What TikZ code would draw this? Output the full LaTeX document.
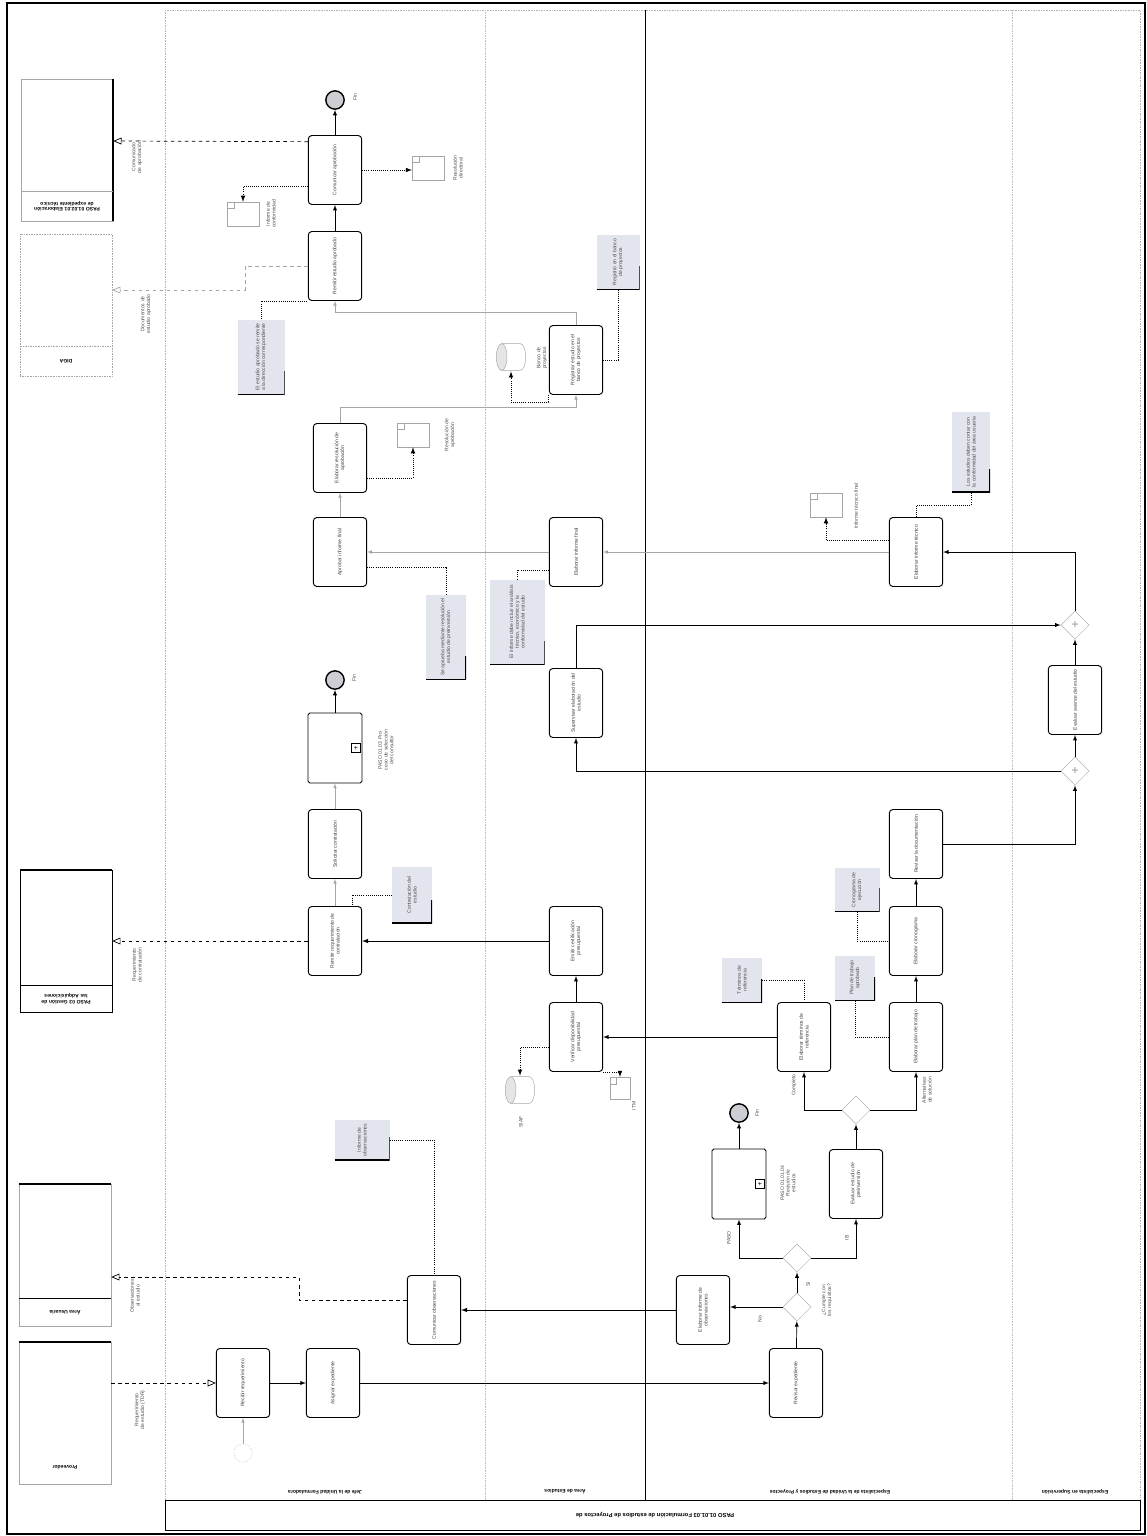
\documentclass[tikz,border=0pt]{standalone}
\usepackage{fontspec}
\setmainfont{Liberation Sans}
\usepackage{xcolor}
\usepackage{graphicx}
\usepackage{tikz}
\usetikzlibrary{shapes,shapes.geometric,arrows,positioning}
\definecolor{annotfill}{RGB}{226,229,237}
\definecolor{evgray}{RGB}{205,206,212}
\newcommand{\vtext}[2]{\rotatebox{90}{\parbox{#1}{\centering #2}}}

\begin{document}
\begin{tikzpicture}[
    x=0.03cm, y=-0.03cm,
    every node/.style={font=\fontsize{4.3}{4.9}\selectfont, inner sep=1pt},
    task/.style={draw, thick, rectangle, rounded corners=3pt, minimum width=1.6cm, minimum height=2.07cm, fill=white, text=black!75},
    subproc/.style={task, minimum width=1.62cm, minimum height=2.1cm, rounded corners=1.5pt},
    spmark/.style={draw, inner sep=0pt, minimum size=0.27cm, font=\fontsize{6}{6}\selectfont},
    gate/.style={draw=gray!60, diamond, minimum width=0.85cm, minimum height=0.85cm, inner sep=0pt, fill=white},
    pgate/.style={gate, font=\fontsize{10}{10}\selectfont\bfseries, text=gray!60},
    startev/.style={circle, draw=gray!70, densely dotted, minimum size=0.55cm, inner sep=0pt},
    endev/.style={circle, draw, very thick, fill=evgray, minimum size=0.55cm, inner sep=0pt},
    annot/.style={fill=annotfill, text=black!70, inner sep=1pt, path picture={\draw[line width=1.2pt] (path picture bounding box.south west) -- (path picture bounding box.south east) -- ([yshift=0.7cm]path picture bounding box.south east);}},
    dobj/.style={draw=gray!70, minimum width=0.95cm, minimum height=0.72cm, inner sep=0pt, fill=white, path picture={\draw[gray!70] ([xshift=0.2cm]path picture bounding box.north west) -- ++(0,-0.2cm) -- ++(-0.2cm,0);}},
    dstore/.style={rectangle, minimum width=0.95cm, minimum height=0.85cm, inner sep=0pt, path picture={
        \begin{scope}[shift={(path picture bounding box.center)}]
        \draw[gray!70, fill=gray!20] (-0.28cm,0) ellipse [x radius=0.16cm, y radius=0.4cm];
        \draw[gray!70] (-0.28cm,0.4cm) -- (0.28cm,0.4cm) arc[start angle=90, end angle=-90, x radius=0.16cm, y radius=0.4cm] -- (-0.28cm,-0.4cm);
        \end{scope}}},
    extpool/.style={draw=gray!70, minimum width=2.76cm, minimum height=4.26cm, inner sep=0pt},
    flow/.style={draw, semithick, -latex},
    softflow/.style={draw=gray!70, thin, -latex},
    msg/.style={draw, dashed, semithick, -open triangle 45},
    assoc/.style={draw, densely dotted, thick},
    lbl/.style={rotate=90, align=center, text=black!70},
    lanelbl/.style={rotate=180, font=\fontsize{4.3}{4.9}\selectfont\bfseries}
]
\useasboundingbox (0,0) rectangle (1147,1536);
\draw[line width=1.6pt] (7,3) rectangle (1145,1534);

\draw[gray!60, densely dotted] (165,10) rectangle (1140,1530);
\draw (165,1500) rectangle (1140,1530);
\draw[gray!50, densely dotted] (485,10) -- (485,1500);
\draw[semithick] (645,10) -- (645,1500);
\draw[gray!50, densely dotted] (1012,10) -- (1012,1500);
\node[lanelbl, font=\fontsize{5}{6}\selectfont\bfseries] (hdr) at (655,1515) {PASO 01.01.03 Formulación de estudios de Proyectos de};
\node[lanelbl] (ln1) at (325,1492) {Jefe de la Unidad Formuladora};
\node[lanelbl] (ln2) at (565,1492) {Área de Estudios};
\node[lanelbl] (ln3) at (830,1492) {Especialista de la Unidad de Estudios y Proyectos};
\node[lanelbl] (ln4) at (1075,1492) {Especialista en Supervisión};

\node[extpool] (p1) at (67,150) {};
\draw[line width=1.3pt] (p1.north east) -- (p1.south east);
\draw[gray!70] ([yshift=0.9cm]p1.south west) -- ([yshift=0.9cm]p1.south east);
\node[lanelbl, text width=2.5cm, align=center] (p1l) at ([yshift=0.45cm]p1.south) {PASO 01.02.01 Elaboración de expediente técnico};
\node[extpool, densely dotted] (p2) at (66,305) {};
\draw[gray!70, densely dotted] ([yshift=0.9cm]p2.south west) -- ([yshift=0.9cm]p2.south east);
\node[lanelbl] (p2l) at ([yshift=0.45cm]p2.south) {DIGA};
\node[extpool, draw=black] (p3) at (66,941) {};
\draw[line width=1.3pt] (p3.north west) -- (p3.north east);
\draw ([yshift=0.8cm]p3.south west) -- ([yshift=0.8cm]p3.south east);
\node[lanelbl, text width=2.5cm, align=center] (p3l) at ([yshift=0.4cm]p3.south) {PASO 03 Gestión de las Adquisiciones};
\node[extpool] (p4) at (65,1255) {};
\draw[line width=1.3pt] (p4.north west) -- (p4.north east);
\draw ([yshift=0.85cm]p4.south west) -- ([yshift=0.85cm]p4.south east);
\node[lanelbl] (p4l) at ([yshift=0.42cm]p4.south) {Área Usuaria};
\node[extpool] (p5) at (65,1413) {};
\draw[line width=1.3pt] (p5.north west) -- (p5.north east);
\node[lanelbl] (p5l) at ([yshift=0.5cm]p5.south) {Proveedor};

\node[startev] (s0) at (243,1453) {};
\node[task] (t1) at (243,1383) {\vtext{1.8cm}{Recibir requerimiento}};
\node[task] (t2) at (333,1383) {\vtext{1.8cm}{Asignar expediente}};
\node[task] (t3) at (796,1383) {\vtext{1.8cm}{Revisar expediente}};
\node[task] (t4) at (434,1310) {\vtext{1.8cm}{Comunicar observaciones}};
\node[task] (t5) at (703,1310) {\vtext{1.8cm}{Elaborar informe de observaciones}};
\node[gate] (g1) at (797,1307) {};
\node[gate] (g2) at (797,1258) {};
\node[subproc] (t6) at (739,1184) {};
\node[spmark, anchor=east] (t6m) at ([xshift=-1.5pt]t6.east) {+};
\node[lbl, text width=1.3cm] (t6l) at (788,1183) {PASO 01.01.04 Revisión de estudios};
\node[endev] (e1) at (739,1113) {};
\node[lbl] (e1l) at (757,1113) {Fin};
\node[task] (t7) at (856,1184) {\vtext{1.8cm}{Evaluar estudio de preinversión}};
\node[gate] (g3) at (856,1110) {};
\node[task] (t8) at (804,1037) {\vtext{1.8cm}{Elaborar términos de referencia}};
\node[task] (t9) at (916,1037) {\vtext{1.8cm}{Elaborar plan de trabajo}};
\node[task] (t10) at (576,1037) {\vtext{1.8cm}{Verificar disponibilidad presupuestal}};
\node[task] (t11) at (916,941) {\vtext{1.8cm}{Elaborar cronograma}};
\node[task] (t12) at (916,844) {\vtext{1.8cm}{Revisar la documentación}};
\node[pgate] (gp1) at (1075,771) {+};
\node[task] (t13) at (576,703) {\vtext{1.8cm}{Supervisar elaboración del estudio}};
\node[task] (t14) at (1075,700) {\vtext{1.8cm}{Evaluar avance del estudio}};
\node[pgate] (gp2) at (1075,625) {+};
\node[task] (t15) at (916,552) {\vtext{1.8cm}{Elaborar informe técnico}};
\node[task] (t16) at (576,552) {\vtext{1.8cm}{Elaborar informe final}};
\node[task] (t17) at (340,552) {\vtext{1.8cm}{Aprobar informe final}};
\node[task] (t18) at (340,458) {\vtext{1.8cm}{Elaborar resolución de aprobación}};
\node[task] (t19) at (576,360) {\vtext{1.8cm}{Registrar estudio en el banco de proyectos}};
\node[task] (t20) at (335,266) {\vtext{1.8cm}{Remitir estudio aprobado}};
\node[task] (t21) at (335,170) {\vtext{1.8cm}{Comunicar aprobación}};
\node[endev] (e3) at (335,100) {};
\node[lbl] (e3l) at (355,97) {Fin};
\node[task] (t22) at (335,941) {\vtext{1.8cm}{Remitir requerimiento de contratación}};
\node[task] (t23) at (576,941) {\vtext{1.8cm}{Emitir certificación presupuestal}};
\node[task] (t24) at (335,844) {\vtext{1.8cm}{Solicitar contratación}};
\node[subproc] (t25) at (335,748) {};
\node[spmark, anchor=east] (t25m) at ([xshift=-1.5pt]t25.east) {+};
\node[lbl, text width=1.3cm] (t25l) at (386,750) {PASO 01.03 Proceso de selección del consultor};
\node[endev] (e2) at (335,680) {};
\node[lbl] (e2l) at (354,678) {Fin};

\node[annot, minimum width=1.65cm, minimum height=1.2cm] (a1) at (362,1140) {\vtext{1.1cm}{Informe de observaciones}};
\node[annot, minimum width=1.2cm, minimum height=1.35cm] (a2) at (742,980) {\vtext{1.25cm}{Términos de referencia}};
\node[annot, minimum width=1.2cm, minimum height=1.35cm] (a3) at (855,978) {\vtext{1.25cm}{Plan de trabajo aprobado}};
\node[annot, minimum width=1.35cm, minimum height=1.3cm] (a4) at (857,890) {\vtext{1.2cm}{Cronograma de ejecución}};
\node[annot, minimum width=1.14cm, minimum height=2.4cm] (a5) at (971,452) {\vtext{2.2cm}{Los estudios deben contar con la conformidad del área usuaria}};
\node[annot, minimum width=1.65cm, minimum height=2.55cm] (a6) at (517,622) {\vtext{2.35cm}{El informe debe incluir el análisis técnico, económico y la conformidad del estudio}};
\node[annot, minimum width=1.2cm, minimum height=2.55cm] (a7) at (446,637) {\vtext{2.35cm}{Se aprueba mediante resolución el estudio de preinversión}};
\node[annot, minimum width=1.29cm, minimum height=1.65cm] (a8) at (618,262) {\vtext{1.5cm}{Registro en el banco de proyectos}};
\node[annot, minimum width=1.41cm, minimum height=2.25cm] (a9) at (261,357) {\vtext{2.1cm}{El estudio aprobado se remite a la dirección correspondiente}};
\node[annot, minimum width=1.2cm, minimum height=1.68cm] (a10) at (412,895) {\vtext{1.55cm}{Contratación del estudio}};

\node[dobj] (d1) at (826,505) {};
\node[lbl, text width=2cm] (d1l) at (856,506) {Informe técnico final};
\node[dobj] (d2) at (413,435) {};
\node[lbl, text width=1.2cm] (d2l) at (450,435) {Resolución de aprobación};
\node[dobj] (d3) at (243,214) {};
\node[lbl, text width=1.2cm] (d3l) at (271,214) {Informe de conformidad};
\node[dobj] (d4) at (428,168) {};
\node[lbl, text width=1.2cm] (d4l) at (458,168) {Resolución directoral};
\node[dstore] (s1) at (511,357) {};
\node[lbl, text width=1.2cm] (s1l) at (542,358) {Banco de proyectos};
\node[dstore] (s2) at (520,1090) {};
\node[lbl] (s2l) at (521,1122) {SIAF};
\node[dobj, minimum width=0.6cm, minimum height=0.65cm] (d5) at (620,1088) {};
\node[lbl] (d5l) at (634,1106) {ITM};

\node[lbl] (l1) at (760,1319) {No};
\node[lbl] (l2) at (808,1284) {Sí};
\node[lbl, text width=1.3cm] (l3) at (827,1300) {¿Cumple con los requisitos?};
\node[lbl] (l4) at (729,1238) {PASO};
\node[lbl] (l5) at (847,1238) {IB};
\node[lbl] (l6) at (794,1085) {Completo};
\node[lbl, text width=1cm] (l7) at (927,1090) {Alternativas de solución};
\node[lbl, text width=1.4cm] (m5l) at (140,1410) {Requerimiento de estudio (TDR)};
\node[lbl, text width=1cm] (m4l) at (135,1296) {Observaciones al estudio};
\node[lbl, text width=1.6cm] (m3l) at (137,965) {Requerimiento de contratación};
\node[lbl, text width=1.2cm] (m2l) at (146,314) {Documentos de estudio aprobado};
\node[lbl, text width=1.2cm] (m1l) at (137,157) {Comunicado de aprobación};

\draw[softflow] (s0) -- (t1);
\draw[flow] (t1) -- (t2);
\draw[flow] (t2) -- (t3);
\draw[flow] (t3) -- (g1);
\draw[flow] (g1.west) -- (g1.west -| t5.east);
\draw[flow, thick] (t5) -- (t4);
\draw[flow] (g1) -- (g2);
\draw[flow] (g2.west) -| (t6.south);
\draw[flow] (g2.east) -| (t7.south);
\draw[flow] (t6) -- (e1);
\draw[flow] (t7) -- (g3);
\draw[flow] (g3.west) -| (t8.south);
\draw[flow] (g3.east) -| (t9.south);
\draw[flow] (t8) -- (t10);
\draw[flow] (t9) -- (t11);
\draw[flow] (t11) -- (t12);
\draw[flow] (t12.east) -| (gp1.south);
\draw[flow] (gp1.west) -| (t13.south);
\draw[flow] (gp1) -- (t14);
\draw[flow] (t14) -- (gp2);
\draw[flow] (t13.north) |- (gp2.west);
\draw[flow] (gp2.north) |- (t15.east);
\draw[softflow] (t15) -- (t16);
\draw[softflow] (t16) -- (t17);
\draw[softflow] (t17) -- (t18);
\draw[softflow] (t18.north) -- ++(0,-16) -| (t19.south);
\draw[softflow] (t19.north) -- ++(0,-13) -| (t20.south);
\draw[flow] (t20) -- (t21);
\draw[flow] (t21) -- (e3);
\draw[flow] (t10) -- (t23);
\draw[flow, thick] (t23) -- (t22);
\draw[softflow] (t22) -- (t24);
\draw[softflow] (t24) -- (t25);
\draw[flow] (t25) -- (e2);

\draw[msg] (p5.east |- t1.west) -- (t1.west);
\draw[msg] ([yshift=0.3cm]t4.west) -- ++(-108,0) |- (p4.east |- 0,1277);
\draw[msg] (t22.west) -- (p3.east |- t22.west);
\draw[msg, draw=gray!70] (t20.west) -- ++(-63,0) |- (p2.east |- 0,290);
\draw[msg] ([yshift=0.85cm]t21.west) -- (p1.east |- 0,141);

\draw[assoc] (a1.east) -| (t4.north);
\draw[assoc] (a2.east) -| (t8.north);
\draw[assoc] (a3.south) |- (t9.west);
\draw[assoc] (a4.south) |- (t11.west);
\draw[assoc] (t15.north) -- ++(0,-12) -| (a5.south);
\draw[assoc] ([yshift=-0.55cm]t16.west) -| (a6.north);
\draw[assoc] ([yshift=-0.45cm]t17.east) -| (a7.north);
\draw[assoc] (a8.south) |- (t19.east);
\draw[assoc] (a9.north) |- (t20.south west);
\draw[assoc] (a10.west) -| ([xshift=-0.3cm]t22.north east);
\draw[assoc, -latex] ([yshift=0.35cm]t15.west) -| (d1.south);
\draw[assoc, -latex] ([yshift=-0.6cm]t18.east) -| (d2.south);
\draw[assoc, -latex] ([yshift=-0.5cm]t21.west) -| (d3.north);
\draw[assoc, -latex] (t21.east) -- (t21.east -| d4.west);
\draw[assoc, -latex] (t19.south west) -- ++(0,7) -| (s1.south);
\draw[assoc, -latex] ([yshift=-0.3cm]t10.west) -| (s2.north);
\draw[assoc, -latex] (t10.south east) -| (d5.north);
\end{tikzpicture}
\end{document}
